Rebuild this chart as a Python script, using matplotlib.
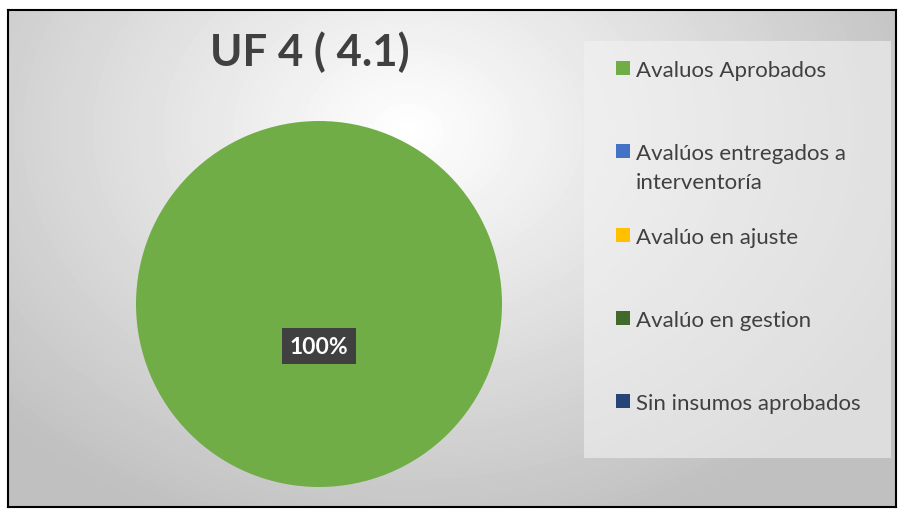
import numpy as np
import matplotlib
matplotlib.use('Agg')
import matplotlib.pyplot as plt
from matplotlib.patches import Rectangle

plt.rcParams['font.family'] = ['Lato', 'DejaVu Sans']

W, H = 898, 510

# Datos
categorias = [
    'Avaluos Aprobados',
    'Avalúos entregados a\ninterventoría',
    'Avalúo en ajuste',
    'Avalúo en gestion',
    'Sin insumos aprobados',
]
valores = [100, 0, 0, 0, 0]
colores = ['#70AD47', '#4472C4', '#FFC000', '#43682B', '#264478']
titulo = 'UF 4 ( 4.1)'


def fx(px):
    return px / W


def fy(py):
    return 1 - py / H


fig = plt.figure(
    figsize=(W / 100, H / 100),
    dpi=100
)

# Fondo degradado
bg = fig.add_axes([fx(8), fy(508), fx(888), 497 / H])
yy, xx = np.mgrid[0:497, 0:888]
d = np.sqrt(((xx - 400) / 560) ** 2 + ((yy - 120) / 430) ** 2)
g = np.clip(1 - 0.25 * d, 0.75, 1)
bg.imshow(g, cmap='gray', vmin=0, vmax=1, aspect='auto',
          interpolation='bilinear')
bg.set_xticks([])
bg.set_yticks([])
for s in bg.spines.values():
    s.set_linewidth(1.5)
    s.set_color('black')

# Titulo
fig.text(
    fx(310), fy(52), titulo,
    fontsize=31.5, fontweight='bold', color='#404040',
    ha='center', va='center'
)

# Pastel
r = 183
ax = fig.add_axes([fx(319 - r), fy(305 + r), 2 * r / W, 2 * r / H])
wedges, _ = ax.pie(
    valores,
    colors=colores,
    startangle=90,
    counterclock=False,
    radius=1
)
ax.set_xlim(-1, 1)
ax.set_ylim(-1, 1)

total = sum(valores)
for w, v in zip(wedges, valores):
    if v > 0:
        ax.text(
            0, -0.23, f'{v / total:.0%}',
            fontsize=16.5, fontweight='bold', color='white',
            ha='center', va='center',
            bbox=dict(boxstyle='square,pad=0.32',
                      facecolor='#404040', edgecolor='none')
        )

# Leyenda
fig.patches.append(Rectangle(
    (fx(584), fy(459)), fx(891 - 584), 417 / H,
    transform=fig.transFigure, facecolor='#f2f2f2',
    alpha=0.6, edgecolor='none'
))
for i, (cat, col) in enumerate(zip(categorias, colores)):
    y0 = 69 + i * 83.3
    fig.patches.append(Rectangle(
        (fx(616), fy(y0 + 7)), fx(14), 14 / H,
        transform=fig.transFigure, facecolor=col, edgecolor='none'
    ))
    fig.text(
        fx(636), fy(y0 - 8), cat,
        fontsize=16, color='#404040',
        ha='left', va='top', linespacing=1.55
    )

fig.savefig('out.png', dpi=100)
